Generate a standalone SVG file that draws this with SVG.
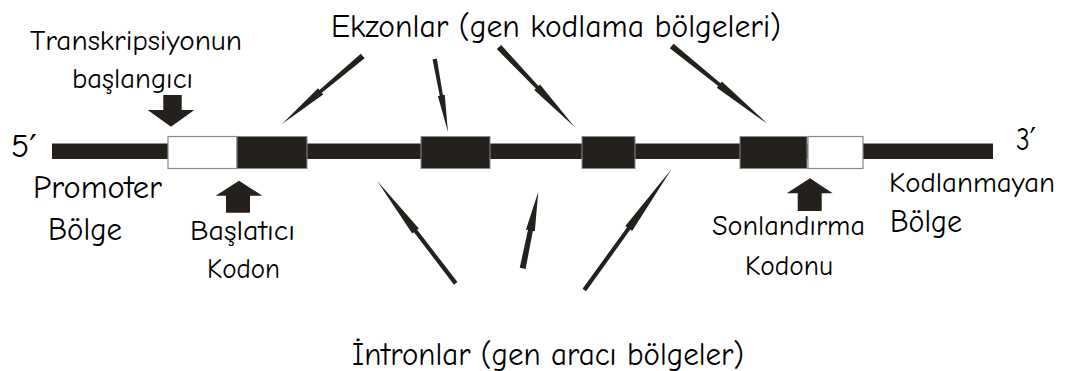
<svg xmlns="http://www.w3.org/2000/svg" width="1070" height="371" viewBox="0 0 1070 371">
<style>
.t{font-family:"Comic Neue","DejaVu Sans","Liberation Sans",sans-serif;font-size:32px;fill:#000}
.s{font-size:29px}
.blk{fill:#24211d;stroke:#8a8a8a;stroke-width:1}
.wht{fill:#fff;stroke:#8a8a8a;stroke-width:1.2}
.ar{fill:#24211d}
</style>
<rect width="1070" height="371" fill="#fff"/>
<g id="dna">
<rect x="52" y="143.5" width="941" height="15.5" fill="#24211d"/>
</g>
<g id="promoter-box"><rect class="wht" x="168" y="136.5" width="69" height="32"/></g>
<g id="exon1"><rect class="blk" x="237" y="136.5" width="70" height="32"/></g>
<g id="exon2"><rect class="blk" x="421" y="136.5" width="69" height="32"/></g>
<g id="exon3"><rect class="blk" x="582" y="136.5" width="53" height="32"/></g>
<g id="exon4"><rect class="blk" x="740" y="136.5" width="67" height="32"/></g>
<g id="utr-box"><rect class="wht" x="808" y="136.5" width="55" height="32"/></g>

<g id="connectors">
<g class="ar">
<polygon transform="translate(362.7,56) rotate(139.9)" points="0,-3 55,-1.8 55,-4 105.5,0 55,4 55,1.8 0,3"/>
<polygon transform="translate(434.7,59) rotate(79.7)" points="0,-2.2 37,-1.6 37,-3.5 74.2,0 37,3.5 37,1.6 0,2.2"/>
<polygon transform="translate(499,47) rotate(46.6)" points="0,-3 55.5,-1.8 55.5,-4 110.1,0 55.5,4 55.5,1.8 0,3"/>
<polygon transform="translate(671.7,46) rotate(39.1)" points="0,-3 61.4,-1.8 61.4,-4 123.7,0 61.4,4 61.4,1.8 0,3"/>
<polygon transform="translate(455.7,283.3) rotate(-127.5)" points="0,-2.2 66,-2 66,-4.2 128.9,0 66,4.2 66,2 0,2.2"/>
<polygon transform="translate(522.7,268.3) rotate(-78.5)" points="0,-3 38.7,-2.5 38.7,-4.5 78.2,0 38.7,4.5 38.7,2.5 0,3"/>
<polygon transform="translate(584.3,290) rotate(-54.2)" points="0,-2.2 75.9,-2 75.9,-4.2 149.3,0 75.9,4.2 75.9,2 0,2.2"/>
</g>
<polygon class="ar" points="163.3,95 181.7,95 181.7,110 194.3,110 171,126.7 147.7,110 163.3,110"/>
<polygon class="ar" points="239,180.7 262.3,195.7 250,195.7 250,212.7 226,212.7 226,195.7 215.7,195.7"/>
<polygon class="ar" points="810,178.3 832.7,193.3 821.7,193.3 821.7,211 797.7,211 797.7,193.3 786.7,193.3"/>
</g>

<g id="labels">
<text class="t" x="331" y="37" textLength="450" lengthAdjust="spacingAndGlyphs">Ekzonlar (gen kodlama bölgeleri)</text>
<text class="t s" x="30" y="50" textLength="212" lengthAdjust="spacingAndGlyphs">Transkripsiyonun</text>
<text class="t s" x="72" y="88" textLength="121" lengthAdjust="spacingAndGlyphs">başlangıcı</text>
<text class="t" x="11" y="157" textLength="26" lengthAdjust="spacingAndGlyphs">5′</text>
<text class="t" x="1016" y="150" textLength="20" lengthAdjust="spacingAndGlyphs">3′</text>
<text class="t" x="33" y="198" textLength="129" lengthAdjust="spacingAndGlyphs">Promoter</text>
<text class="t" x="48" y="240" textLength="74" lengthAdjust="spacingAndGlyphs">Bölge</text>
<text class="t s" x="190" y="240" textLength="105" lengthAdjust="spacingAndGlyphs">Başlatıcı</text>
<text class="t s" x="207" y="278" textLength="73" lengthAdjust="spacingAndGlyphs">Kodon</text>
<text class="t s" x="712" y="235" textLength="153" lengthAdjust="spacingAndGlyphs">Sonlandırma</text>
<text class="t s" x="745" y="275" textLength="88" lengthAdjust="spacingAndGlyphs">Kodonu</text>
<text class="t s" x="889" y="192" textLength="166" lengthAdjust="spacingAndGlyphs">Kodlanmayan</text>
<text class="t" x="890" y="232" textLength="72" lengthAdjust="spacingAndGlyphs">Bölge</text>
<text class="t" x="352" y="365" textLength="392" lengthAdjust="spacingAndGlyphs">İntronlar (gen aracı bölgeler)</text>
</g>
</svg>
